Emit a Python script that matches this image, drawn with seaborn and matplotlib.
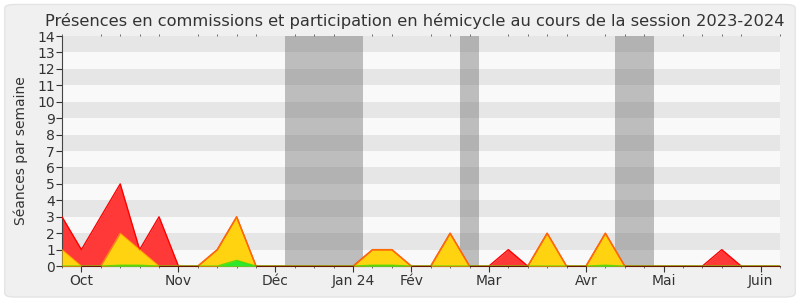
import matplotlib
matplotlib.use("Agg")
import matplotlib.pyplot as plt
from matplotlib.patches import FancyBboxPatch
import seaborn as sns
import numpy as np
import pandas as pd

# ---- data (weekly index, Sept 2023 -> June 2024) ----
weeks = list(range(38))
red_vals = [3, 1, 3, 5, 1, 3, 0, 0, 1, 3, 0, 0, 0, 0, 0, 0, 1, 1, 0, 0,
            2, 0, 0, 1, 0, 2, 0, 0, 2, 0, 0, 0, 0, 0, 1, 0, 0, 0]
yellow_vals = [1, 0, 0, 2, 1, 0, 0, 0, 1, 3, 0, 0, 0, 0, 0, 0, 1, 1, 0, 0,
               2, 0, 0, 0, 0, 2, 0, 0, 2, 0, 0, 0, 0, 0, 0, 0, 0, 0]
green_vals = [0, 0, 0, 0.05, 0.05, 0, 0, 0, 0, 0.35, 0, 0, 0, 0, 0, 0, 0.05, 0.05, 0, 0,
              0, 0, 0, 0, 0, 0, 0, 0, 0.05, 0, 0, 0, 0, 0, 0, 0, 0, 0]
month_labels = ["Oct", "Nov", "Déc", "Jan 24", "Fév", "Mar", "Avr", "Mai", "Juin"]
month_pos = [1, 6, 11, 15, 18, 22, 27, 31, 36]
vacations = [(11.5, 15.5), (20.5, 21.5), (28.5, 30.5)]
title = "Présences en commissions et participation en hémicycle au cours de la session 2023-2024"

df = pd.DataFrame({"week": weeks, "red": red_vals, "yellow": yellow_vals, "green": green_vals})

sns.set_style("white")
plt.rcParams["font.family"] = ["DejaVu Sans"]

fig = plt.figure(figsize=(8, 3), dpi=100)
fig.patch.set_facecolor("white")
bg = FancyBboxPatch((0.006, 0.01), 0.988, 0.975, boxstyle="round,pad=0,rounding_size=0.012",
                    transform=fig.transFigure, facecolor="#f0f0f0", edgecolor="#e4e4e4",
                    linewidth=1, zorder=-10)
fig.patches.append(bg)

ax = fig.add_axes([0.0775, 0.113, 0.8975, 0.767])
ax.set_facecolor("#f9f9f9")

# horizontal bands
for k in range(1, 14, 2):
    ax.axhspan(k, k + 1, color="#e6e6e6", zorder=0, lw=0)

# vacations
for a, b in vacations:
    ax.axvspan(a, b, color="#646464", alpha=0.4, zorder=1, lw=0)

x = df["week"].values
ax.fill_between(x, 0, df["red"], color="#ff3838", zorder=2, lw=0)
ax.fill_between(x, 0, df["yellow"], color="#ffd30f", zorder=3, lw=0)
ax.fill_between(x, 0, df["green"], color="#2ee82e", zorder=4, lw=0)
sns.lineplot(data=df, x="week", y="red", ax=ax, color="#ff0000", lw=1, zorder=5)
sns.lineplot(data=df, x="week", y="yellow", ax=ax, color="#ffb000", lw=1, alpha=0.6, zorder=6)
sns.lineplot(data=df, x="week", y="green", ax=ax, color="#00dd00", lw=1, alpha=0.6, zorder=7)

ax.set_xlim(0, 37)
ax.set_ylim(0, 14)
ax.set_yticks(range(0, 15))
ax.set_yticklabels([str(v) for v in range(0, 15)], fontsize=10, color="#333333")
ax.set_xticks(month_pos)
ax.set_xticklabels(month_labels, fontsize=10, color="#333333")
ax.set_xticks(weeks, minor=True)
ax.tick_params(axis="x", which="both", direction="out", length=4, width=0.8, color="#333333", pad=2,
               bottom=True, top=False)
ax.tick_params(axis="x", which="minor", top=True, length=1.5, width=0.6, color="#555555")
ax.tick_params(axis="y", direction="out", length=4, width=0.8, color="#333333", pad=1, left=True)
for s in ["top", "right"]:
    ax.spines[s].set_visible(False)
ax.spines["left"].set_color("#444444")
ax.spines["bottom"].set_color("#6b1a00")
ax.set_xlabel("")
ax.set_ylabel("Séances par semaine", fontsize=10, color="#333333", labelpad=7)
ax.set_title(title, fontsize=11.7, color="#333333", pad=7, x=0.491)

fig.savefig("out.png", dpi=100, facecolor=fig.get_facecolor())
